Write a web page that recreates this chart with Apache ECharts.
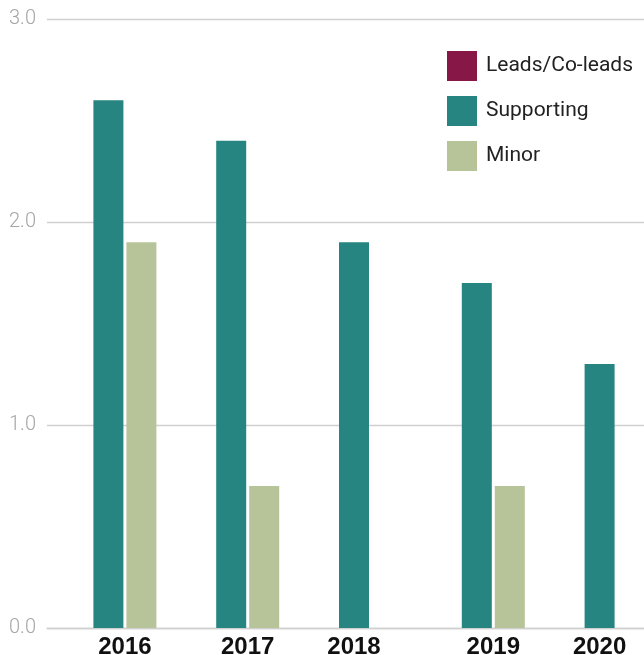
<!DOCTYPE html>
<html>
<head>
<meta charset="utf-8">
<style>
  html, body { margin: 0; padding: 0; background: #ffffff; overflow: hidden; }
  #wrap { width: 644px; height: 655px; overflow: hidden; }
  /* plot runs past the right edge; the wrapper trims it */
  #chart { width: 661px; height: 655px; }
</style>
<script src="https://cdn.jsdelivr.net/npm/echarts@6/dist/echarts.min.js"></script>
</head>
<body>
<div id="wrap"><div id="chart"></div></div>
<script>
// Role counts per year
const years = ['2016', '2017', '2018', '2019', '2020'];
const leads = [0, 0, 0, 0, 0];
const supporting = [2.6, 2.4, 1.9, 1.7, 1.3];
const minor = [1.9, 0.7, 0, 0.7, 0];
const yTicks = [0, 1, 2, 3];

const COLORS = { leads: '#871747', supporting: '#268581', minor: '#b7c399' };

const chart = echarts.init(document.getElementById('chart'), null, { renderer: 'canvas' });

// Year labels sit under the visible bars: shift right when a Minor bar exists
function yearLabel(value, idx) {
  return minor[idx] > 0 ? '{shift|' + value + '}' : '{plain|' + value + '}';
}

const barCommon = { type: 'bar', barWidth: 30, barGap: '10%', barCategoryGap: 0 };
const yearFont = {
  fontFamily: '"Liberation Sans", Arial, sans-serif',
  fontWeight: 'bold', fontSize: 24, color: '#111111'
};

chart.setOption({
  animation: false,
  grid: { left: 47, right: 0, top: 19, bottom: 27, containLabel: false, outerBoundsMode: 'none' },
  legend: {
    orient: 'vertical',
    left: 447,
    top: 51,
    padding: 0,
    itemWidth: 30,
    itemHeight: 30,
    itemGap: 15,
    icon: 'rect',
    textStyle: {
      fontFamily: 'Roboto, "Liberation Sans", Arial, sans-serif',
      fontSize: 21,
      color: '#222222',
      padding: [2, 0, 0, 4]
    },
    data: ['Leads/Co-leads', 'Supporting', 'Minor']
  },
  xAxis: {
    type: 'category',
    data: years,
    axisLine: { show: true, lineStyle: { color: '#d0d0d0', width: 1.3 } },
    axisTick: { show: false },
    axisLabel: {
      margin: 7,
      formatter: yearLabel,
      rich: {
        plain: Object.assign({}, yearFont),
        shift: Object.assign({}, yearFont, { padding: [0, 0, 0, 33] })
      }
    }
  },
  yAxis: {
    type: 'value',
    min: yTicks[0],
    max: yTicks[yTicks.length - 1],
    interval: 1,
    axisLine: { show: false },
    axisTick: { show: false },
    splitLine: { lineStyle: { color: '#d0d0d0', width: 1.3 } },
    axisLabel: {
      margin: 11,
      fontFamily: 'Roboto, "Liberation Sans", Arial, sans-serif',
      fontWeight: 300,
      fontSize: 20,
      color: '#a6a6a6',
      padding: [7, 0, 0, 0],
      formatter: v => v.toFixed(1)
    }
  },
  series: [
    Object.assign({}, barCommon, { name: 'Leads/Co-leads', data: leads, itemStyle: { color: COLORS.leads } }),
    Object.assign({}, barCommon, { name: 'Supporting', data: supporting, itemStyle: { color: COLORS.supporting } }),
    Object.assign({}, barCommon, { name: 'Minor', data: minor, itemStyle: { color: COLORS.minor } })
  ]
});
</script>
</body>
</html>
